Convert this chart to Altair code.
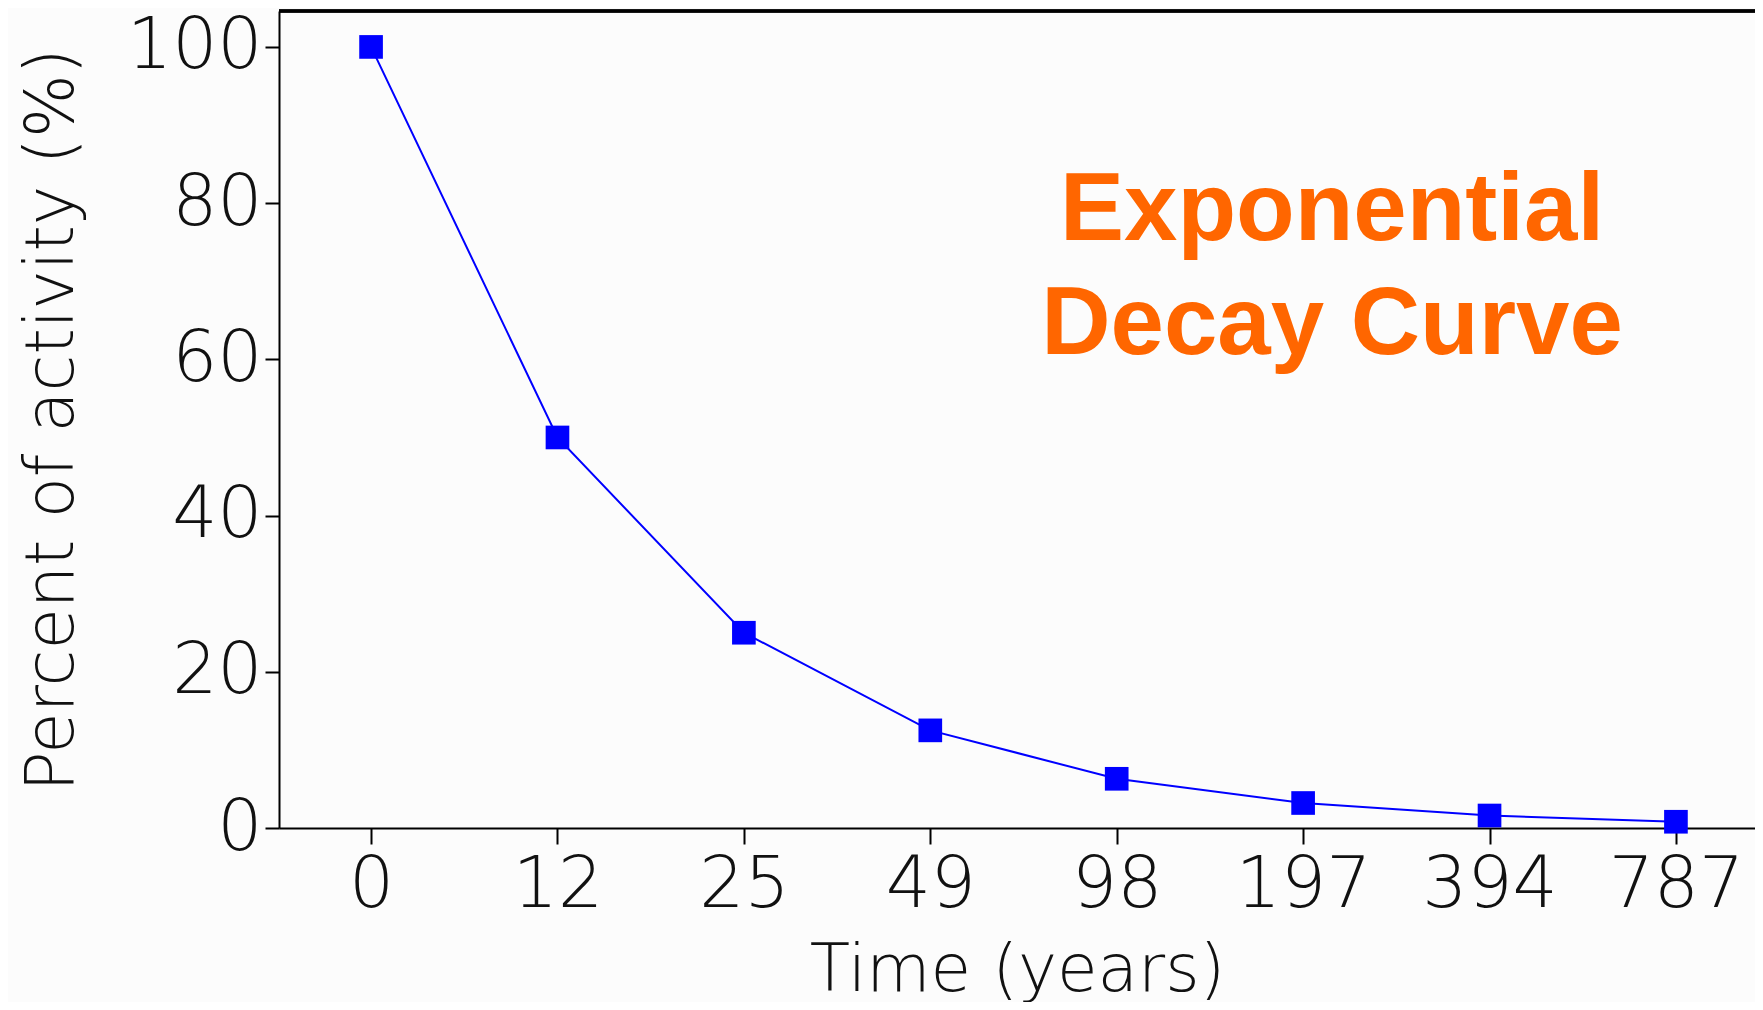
import altair as alt
import pandas as pd

# Data
time_years = ["0", "12", "25", "49", "98", "197", "394", "787"]
percent_activity = [100, 50, 25, 12.5, 6.3, 3.2, 1.6, 0.8]
y_ticks = [0, 20, 40, 60, 80, 100]
annotation_lines = ["Exponential", "Decay Curve"]

df = pd.DataFrame({"time": time_years, "pct": percent_activity})

W, H = 1476, 817
FONT = "DejaVu Sans"
AFONT = "Liberation Sans"
xscale = alt.Scale(type="point", padding=0.459, align=0.538)

x_bottom = alt.X(
    "time:O",
    sort=time_years,
    scale=xscale,
    axis=alt.Axis(
        title="Time (years)", labelAngle=0, tickSize=16, tickWidth=2,
        domainWidth=2, domainColor="#000", tickColor="#000",
        labelFontSize=71, labelFont=FONT, labelFontWeight=200, labelColor="#111",
        labelPadding=6,
        titleFontSize=66, titleFont=FONT, titleFontWeight=200, titleColor="#111",
        titlePadding=18,
    ),
)
y_enc = alt.Y(
    "pct:Q",
    scale=alt.Scale(domain=[0, 104.6], nice=False),
    axis=alt.Axis(
        title="Percent of activity (%)", values=y_ticks, tickSize=14, tickWidth=2,
        domainWidth=2, domainColor="#000", tickColor="#000", grid=False,
        labelFontSize=71, labelFont=FONT, labelFontWeight=200, labelColor="#111",
        labelPadding=3,
        titleFontSize=67, titleFont=FONT, titleFontWeight=200, titleColor="#111",
        titleX=-193, titleBaseline="bottom",
    ),
)

base = alt.Chart(df).encode(x=x_bottom, y=y_enc)
line = base.mark_line(color="#0000FF", strokeWidth=2)
points = base.mark_square(color="#0000FF", size=560, opacity=1)

top_border = alt.Chart(df).mark_rule(color="#000", strokeWidth=2.5).encode(
    x=alt.value(0), x2=alt.value(W), y=alt.value(0)
)

label = alt.Chart(pd.DataFrame({"t": [annotation_lines]})).mark_text(
    color="#FF6600", font=AFONT, fontWeight="bold", fontSize=96,
    align="center", baseline="alphabetic", lineHeight=114,
).encode(text="t:N", x=alt.value(1053), y=alt.value(229))

chart = (
    alt.layer(line, points, top_border, label)
    .properties(width=W, height=H, background="#FCFCFC",
                padding={"left": 271, "top": 3, "right": 0, "bottom": 174},
                autosize=alt.AutoSizeParams(type="none"))
    .configure_view(stroke=None)
)

chart.save("out.html", embed_options={"renderer": "svg", "actions": False})
